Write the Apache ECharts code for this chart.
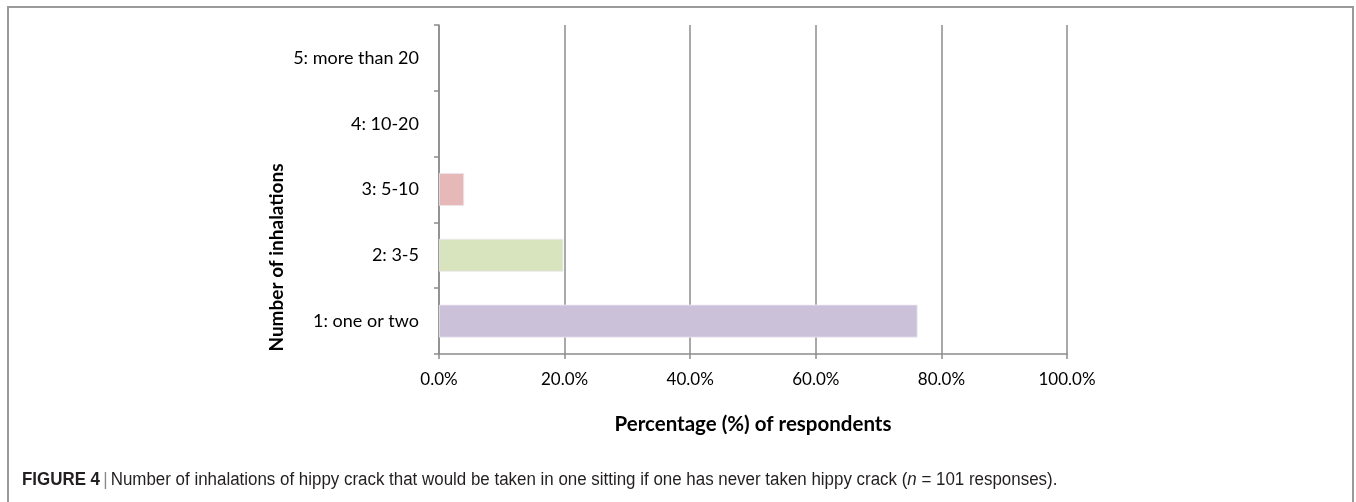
<!DOCTYPE html>
<html>
<head>
<meta charset="utf-8">
<title>Number of inhalations</title>
<script src="https://cdn.jsdelivr.net/npm/echarts@6/dist/echarts.min.js"></script>
<style>
  html, body { margin: 0; padding: 0; background: #ffffff; }
  #chart { width: 1356px; height: 502px; }
</style>
</head>
<body>
<div id="chart"></div>
<script>
// Answer categories, bottom to top
const categories = ['1: one or two', '2: 3-5', '3: 5-10', '4: 10-20', '5: more than 20'];
// Share of respondents (%) for each category (n = 101)
const percentages = [76.2, 19.8, 4.0, 0, 0];
// Fill colour for each category bar
const barColors = ['#CBC2DA', '#D8E4BD', '#E6B9B8', '#B9CDE5', '#FCD5B5'];
// Value axis ticks
const xTicks = [0, 20, 40, 60, 80, 100];

const chartFont = 'Lato, "Open Sans", sans-serif';
const captionFont = '"Liberation Sans Narrow", "Arial Narrow", "Liberation Sans", sans-serif';

const chart = echarts.init(document.getElementById('chart'), null, { renderer: 'canvas' });

chart.setOption({
  animation: false,
  backgroundColor: '#ffffff',
  grid: { left: 439, right: 289, top: 25, bottom: 148, containLabel: false },
  xAxis: {
    type: 'value',
    min: xTicks[0],
    max: xTicks[xTicks.length - 1],
    interval: xTicks[1] - xTicks[0],
    name: 'Percentage (%) of respondents',
    nameLocation: 'middle',
    nameGap: 60,
    nameTextStyle: { fontFamily: chartFont, fontSize: 20.5, fontWeight: 'bold', color: '#000' },
    axisLine: { show: true, lineStyle: { color: '#8c8c8c', width: 1.5 } },
    axisTick: { show: true, length: 5, lineStyle: { color: '#8c8c8c', width: 1.5 } },
    axisLabel: {
      fontFamily: chartFont, fontSize: 17, color: '#000', margin: 17,
      formatter: v => v.toFixed(1) + '%'
    },
    splitLine: { show: true, lineStyle: { color: '#8c8c8c', width: 1.5 } }
  },
  yAxis: {
    type: 'category',
    data: categories,
    name: 'Number of inhalations',
    nameLocation: 'middle',
    nameGap: 153,
    nameTextStyle: {
      fontFamily: chartFont, fontSize: 19, fontWeight: 'bold', color: '#000',
      // title sits lower than the axis centre
      padding: [0, 136, 0, 0]
    },
    axisLine: { show: true, lineStyle: { color: '#8c8c8c', width: 1.5 } },
    axisTick: { show: true, length: 5, lineStyle: { color: '#8c8c8c', width: 1.5 } },
    axisLabel: { fontFamily: chartFont, fontSize: 18, color: '#000', margin: 20 },
    splitLine: { show: false }
  },
  series: [{
    type: 'bar',
    data: percentages.map((v, i) => ({
      value: v,
      itemStyle: {
        color: barColors[i],
        borderColor: '#ece8f0',
        borderWidth: v > 0 ? 0.8 : 0
      }
    })),
    barCategoryGap: '50%',
    silent: true
  }],
  graphic: [
    {
      type: 'polyline',
      shape: { points: [[8, 502], [8, 7], [1353, 7], [1353, 502]] },
      style: { stroke: '#9a9a9a', lineWidth: 2, fill: null },
      silent: true
    },
    {
      type: 'text',
      x: 22,
      y: 471,
      scaleX: 0.94,
      style: {
        rich: {
          b: { fontFamily: captionFont, fontSize: 18, fontWeight: 'bold', fill: '#231f20' },
          s: { fontFamily: captionFont, fontSize: 18, fill: '#8a8a8a' },
          t: { fontFamily: captionFont, fontSize: 18, fill: '#231f20' },
          i: { fontFamily: captionFont, fontSize: 18, fontStyle: 'italic', fill: '#231f20' }
        },
        text: '{b|FIGURE 4} {s||} {t|Number of inhalations of hippy crack that would be taken in one sitting if one has never taken hippy crack (}{i|n}{t| = 101 responses).}'
      },
      silent: true
    }
  ]
});
</script>
</body>
</html>
